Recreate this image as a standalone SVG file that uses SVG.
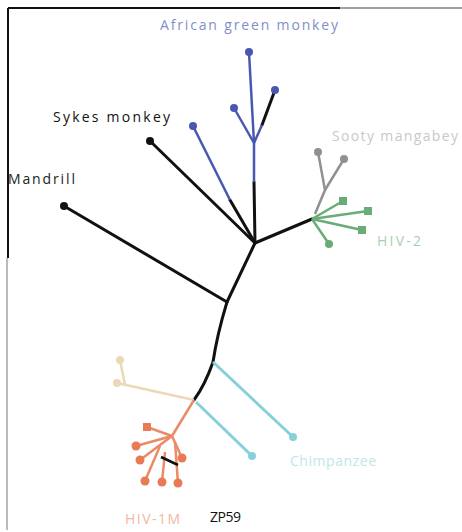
<svg xmlns="http://www.w3.org/2000/svg" width="462" height="532" viewBox="0 0 462 532">
<style>
.t{font-family:"Open Sans","Liberation Sans",sans-serif;font-size:14px}
.k{stroke:#111;stroke-width:3;fill:none;stroke-linecap:round}
.b{stroke:#4858b0;stroke-width:2.5;fill:none}
.g{stroke:#909090;stroke-width:2.5;fill:none}
.gr{stroke:#68ad78;stroke-width:2.5;fill:none}
.c{stroke:#86d0da;stroke-width:3;fill:none}
.tn{stroke:#ead8b8;stroke-width:2.5;fill:none}
.o{stroke:#ea8a66;stroke-width:2.5;fill:none}
</style>
<rect width="462" height="532" fill="#fff"/>
<g id="frame">
<line x1="8" y1="8" x2="340" y2="8" stroke="#111" stroke-width="2"/>
<line x1="340" y1="8" x2="462" y2="8" stroke="#a0a0a0" stroke-width="2"/>
<line x1="8" y1="8" x2="8" y2="258" stroke="#111" stroke-width="2"/>
<line x1="7" y1="258" x2="7" y2="530" stroke="#bbb" stroke-width="2"/>
</g>
<g id="connectors">
<path class="k" d="M255 243 L227 302"/>
<path class="k" d="M227 302 L64 206"/>
<path class="k" d="M255 243 L150 141"/>
<path class="k" d="M255 243 L230 200"/>
<path class="b" d="M230 200 L193 126"/>
<path class="k" d="M255 243 L254 182"/>
<path class="b" d="M254 182 L254 143 L249 52"/>
<path class="b" d="M254 143 L234 108"/>
<path class="k" d="M262 125 L275 90"/>
<path class="b" d="M254 143 L262 125"/>
<path class="k" d="M255 243 L312 219"/>
<path class="g" d="M315 214 L325 190 L318 152"/>
<path class="g" d="M325 190 L344 159"/>
<path class="gr" d="M312 219 L343 201"/>
<path class="gr" d="M312 219 L368 211"/>
<path class="gr" d="M312 219 L362 230"/>
<path class="gr" d="M312 219 L329 244"/>
<path class="k" d="M227 302 Q217 335 213 362 Q205 385 194 400"/>
<path class="c" d="M213 362 L293 437"/>
<path class="c" d="M196 402 L252 456"/>
<path class="tn" d="M194 400 L117 383"/>
<path class="tn" d="M125 385 L120 360"/>
<path class="o" d="M194 400 L172 436"/>
<path class="o" d="M172 436 L147 427"/>
<path class="o" d="M172 436 L136 446"/>
<path class="o" d="M172 436 L140 460"/>
<path class="o" d="M172 436 L182 458"/>
<path class="o" d="M160 446 L145 481"/>
<path class="o" d="M165 452 L162 482"/>
<path class="o" d="M175 442 L178 483"/>
<path d="M161 457 L178 465" stroke="#111" stroke-width="2.5"/>
</g>
<g id="mandrill"><circle cx="64" cy="206" r="4" fill="#111"/><text class="t" x="8" y="184" fill="#222" textLength="67">Mandrill</text></g>
<g id="sykes"><circle cx="150" cy="141" r="4" fill="#111"/><text class="t" x="53" y="122" fill="#111" textLength="117">Sykes monkey</text></g>
<g id="agm">
<circle cx="249" cy="52" r="4" fill="#4858b0"/><circle cx="275" cy="90" r="4" fill="#4858b0"/><circle cx="234" cy="108" r="4" fill="#4858b0"/><circle cx="193" cy="126" r="4" fill="#4858b0"/>
<text class="t" x="249" y="30" fill="#8090c8" text-anchor="middle" textLength="178">African green monkey</text>
</g>
<g id="sooty">
<circle cx="318" cy="152" r="4" fill="#909090"/><circle cx="344" cy="159" r="4" fill="#909090"/>
<text class="t" x="332" y="141" fill="#c8c8c8" textLength="126">Sooty mangabey</text>
</g>
<g id="hiv2">
<rect x="339" y="197" width="8" height="8" fill="#68ad78"/><rect x="364" y="207" width="8" height="8" fill="#68ad78"/><rect x="358" y="226" width="8" height="8" fill="#68ad78"/><circle cx="329" cy="244" r="4" fill="#68ad78"/>
<text class="t" x="377" y="246" fill="#a8d0b0" textLength="44">HIV-2</text>
</g>
<g id="chimpanzee">
<circle cx="293" cy="437" r="4" fill="#86d0da"/><circle cx="252" cy="456" r="4" fill="#86d0da"/>
<text class="t" x="290" y="466" fill="#c0e6ea" textLength="86">Chimpanzee</text>
</g>
<g id="tan"><circle cx="120" cy="360" r="4" fill="#ead8b8"/><circle cx="117" cy="383" r="4" fill="#ead8b8"/></g>
<g id="hiv1m">
<rect x="143" y="423" width="8" height="8" fill="#ea7a56"/><circle cx="136" cy="446" r="4.5" fill="#ea7a56"/><circle cx="140" cy="460" r="4.5" fill="#ea7a56"/><circle cx="182" cy="458" r="4.5" fill="#ea7a56"/><circle cx="145" cy="481" r="4.5" fill="#ea7a56"/><circle cx="162" cy="482" r="4.5" fill="#ea7a56"/><circle cx="178" cy="483" r="4.5" fill="#ea7a56"/>
<text class="t" x="125" y="524" fill="#f0b8a0" textLength="55">HIV-1M</text>
</g>
<g id="zp59"><text class="t" x="210" y="522" fill="#111" textLength="31">ZP59</text></g>
</svg>
